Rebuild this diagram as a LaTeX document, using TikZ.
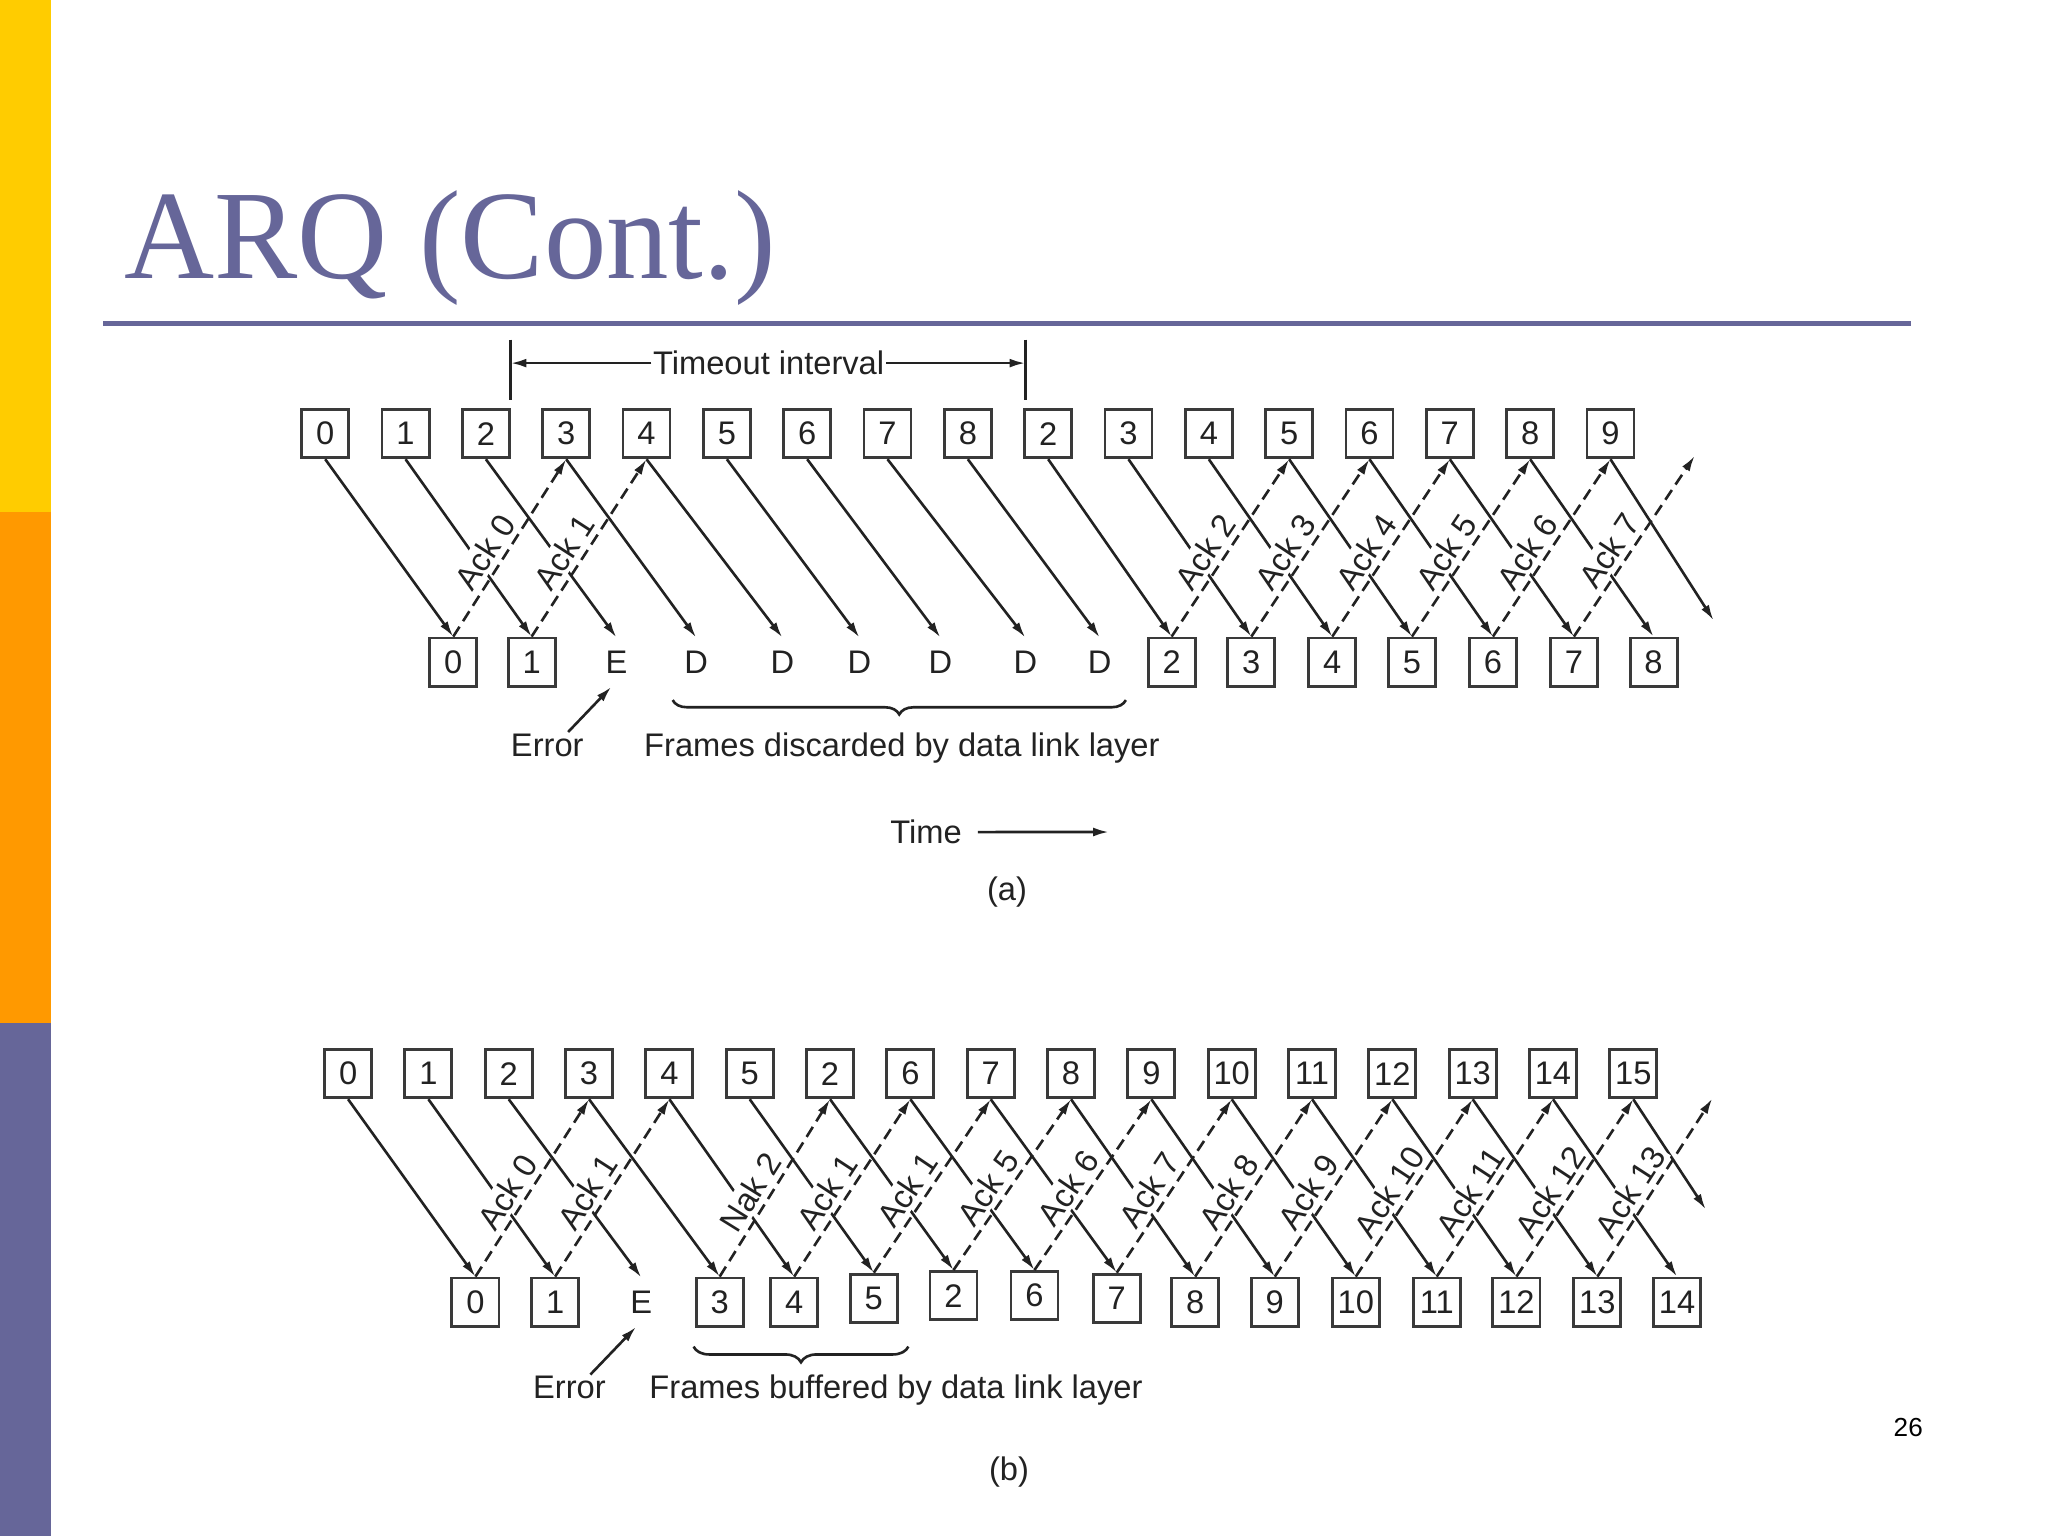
\documentclass[tikz,border=0pt]{standalone}
\usepackage{fontspec}
\setmainfont{Liberation Serif}
\setsansfont{Liberation Sans}
\usetikzlibrary{arrows.meta,decorations.pathreplacing,calc}
\definecolor{slate}{HTML}{666699}
\definecolor{barY}{HTML}{FFCC00}
\definecolor{barO}{HTML}{FF9900}
\definecolor{ink}{HTML}{222222}
\definecolor{boxink}{HTML}{3a3a3a}
\begin{document}
\begin{tikzpicture}[x=0.5pt,y=-0.5pt,
  dfont/.style={font=\sffamily\fontsize{12.5}{15}\selectfont},
  frame/.style={draw=boxink, line width=1.1pt, dfont, text=ink, minimum width=18pt, minimum height=18.5pt, inner sep=0pt},
  slot/.style={dfont, text=ink, minimum width=18pt, minimum height=18.5pt, inner sep=0pt},
  lbl/.style={dfont, text=ink, inner sep=0.5pt},
  sendarrow/.style={draw=ink, line width=1pt, -{Latex[length=6pt,width=3.4pt]}},
  ackarrow/.style={sendarrow, dash pattern=on 4.5pt off 2.5pt},
  acklbl/.style={dfont, text=ink, sloped, above=1pt, fill=white, inner sep=1pt, pos=0.42},
  plainline/.style={draw=ink, line width=1pt},
  bracestyle/.style={draw=ink, line width=1pt, decorate},
]
\useasboundingbox (0,0) rectangle (1568,1176);
\fill[white] (0,0) rectangle (1568,1176);
% side bar
\fill[barY] (0,0) rectangle (39,392);
\fill[barO] (0,392) rectangle (39,783);
\fill[slate] (0,783) rectangle (39,1176);
% title
\node[anchor=base west, text=slate, font=\rmfamily\fontsize{48.5}{58}\selectfont, inner sep=0pt, xscale=0.985] (title) at (95,213) {ARQ (Cont.)};
\draw[slate, line width=1.9pt] (79,248) -- (1463,248);
\node[font=\sffamily\fontsize{10}{12}\selectfont, text=black] (pagenum) at (1461,1093) {26};

% ================= (a) =================
\draw[plainline] (391,260) -- (391,306);
\draw[plainline] (785,260) -- (785,306);
\node[lbl] (timeout) at (588.5,278) {Timeout interval};
\coordinate (toL) at (391,278);
\coordinate (toR) at (785,278);
\draw[sendarrow] (timeout) -- (toL);
\draw[sendarrow] (timeout) -- (toR);

\foreach \lab [count=\ii from 0] in {0,1,2,3,4,5,6,7,8,2,3,4,5,6,7,8,9}
  \node[frame] (aT\ii) at ({249+61.5*\ii},332) {\lab};

\node[frame] (aB0) at (347,507) {0};
\node[frame] (aB1) at (407,507) {1};
\node[slot] (aE) at (472,507) {E};
\foreach \x [count=\k] in {533,599,658,720,785,842}
  \node[slot] (aD\k) at (\x,507) {D};
\foreach \x/\lab in {897/2,958/3,1020/4,1081/5,1143/6,1205/7,1266/8}
  \node[frame] (aB\lab) at (\x,507) {\lab};

\foreach \src/\dst in {0/aB0,1/aB1,2/aE,3/aD1,4/aD2,5/aD3,6/aD4,7/aD5,8/aD6,9/aB2,10/aB3,11/aB4,12/aB5,13/aB6,14/aB7,15/aB8}
  \draw[sendarrow] (aT\src.south) -- (\dst.north);
\coordinate (aFree1) at (1312,475);
\draw[sendarrow] (aT16.south) -- (aFree1);

\foreach \src/\dst/\txt in {aB0/3/Ack 0,aB1/4/Ack 1,aB2/12/Ack 2,aB3/13/Ack 3,aB4/14/Ack 4,aB5/15/Ack 5,aB6/16/Ack 6}
  \draw[ackarrow] (\src.north) -- node[acklbl] {\txt} (aT\dst.south);
\coordinate (aFree2) at (1297.5,349);
\draw[ackarrow] (aB7.north) -- node[acklbl] {Ack 7} (aFree2);

\node[lbl, anchor=base] (aErr) at (419,579) {Error};
\draw[sendarrow] ([xshift=8pt]aErr.north) -- ([xshift=-2pt]aE.south);
\node[lbl, anchor=base] (aFrames) at (690.5,579) {Frames discarded by data link layer};
\coordinate (aBrL) at (515,536);
\coordinate (aBrR) at (862,536);
\draw[bracestyle, decoration={brace, amplitude=5.5pt}] (aBrR) -- (aBrL);

\node[lbl, anchor=base] (time) at (709,646) {Time};
\coordinate (timeEnd) at (849,637);
\draw[sendarrow, shorten <=5.5pt] (time) -- (timeEnd);
\node[lbl, anchor=base] (capA) at (771,689.5) {(a)};

% ================= (b) =================
\foreach \lab [count=\ii from 0] in {0,1,2,3,4,5,2,6,7,8,9,10,11,12,13,14,15}
  \node[frame] (bT\ii) at ({266.5+61.5*\ii},822) {\lab};

\foreach \x/\yy/\lab in {364/997/0,425/997/1,551/997/3,608/997/4,669/994/5,730/992/2,792/992/6,855/994/7,915/997/8,976/997/9,1038/997/10,1100/997/11,1161/997/12,1223/997/13,1284/997/14}
  \node[frame] (bB\lab) at (\x,\yy) {\lab};
\node[slot] (bE) at (491,997) {E};

\foreach \src/\dst in {0/bB0,1/bB1,2/bE,3/bB3,4/bB4,5/bB5,6/bB2,7/bB6,8/bB7,9/bB8,10/bB9,11/bB10,12/bB11,13/bB12,14/bB13,15/bB14}
  \draw[sendarrow] (bT\src.south) -- (\dst.north);
\coordinate (bFree1) at (1306,926);
\draw[sendarrow] (bT16.south) -- (bFree1);

\foreach \src/\dst/\txt in {bB0/3/Ack 0,bB1/4/Ack 1,bB3/6/Nak 2,bB4/7/Ack 1,bB5/8/Ack 1,bB2/9/Ack 5,bB6/10/Ack 6,bB7/11/Ack 7,bB8/12/Ack 8,bB9/13/Ack 9,bB10/14/Ack 10,bB11/15/Ack 11,bB12/16/Ack 12}
  \draw[ackarrow] (\src.north) -- node[acklbl] {\txt} (bT\dst.south);
\coordinate (bFree2) at (1311,841);
\draw[ackarrow] (bB13.north) -- node[acklbl] {Ack 13} (bFree2);

\node[lbl, anchor=base] (bErr) at (436,1071) {Error};
\draw[sendarrow] ([xshift=8pt]bErr.north) -- ([xshift=-2pt]bE.south);
\node[lbl, anchor=base] (bFrames) at (686,1071) {Frames buffered by data link layer};
\coordinate (bBrL) at (531,1031);
\coordinate (bBrR) at (695.5,1031);
\draw[bracestyle, decoration={brace, amplitude=6pt}] (bBrR) -- (bBrL);
\node[lbl, anchor=base] (capB) at (772.5,1133.5) {(b)};
\end{tikzpicture}
\end{document}
